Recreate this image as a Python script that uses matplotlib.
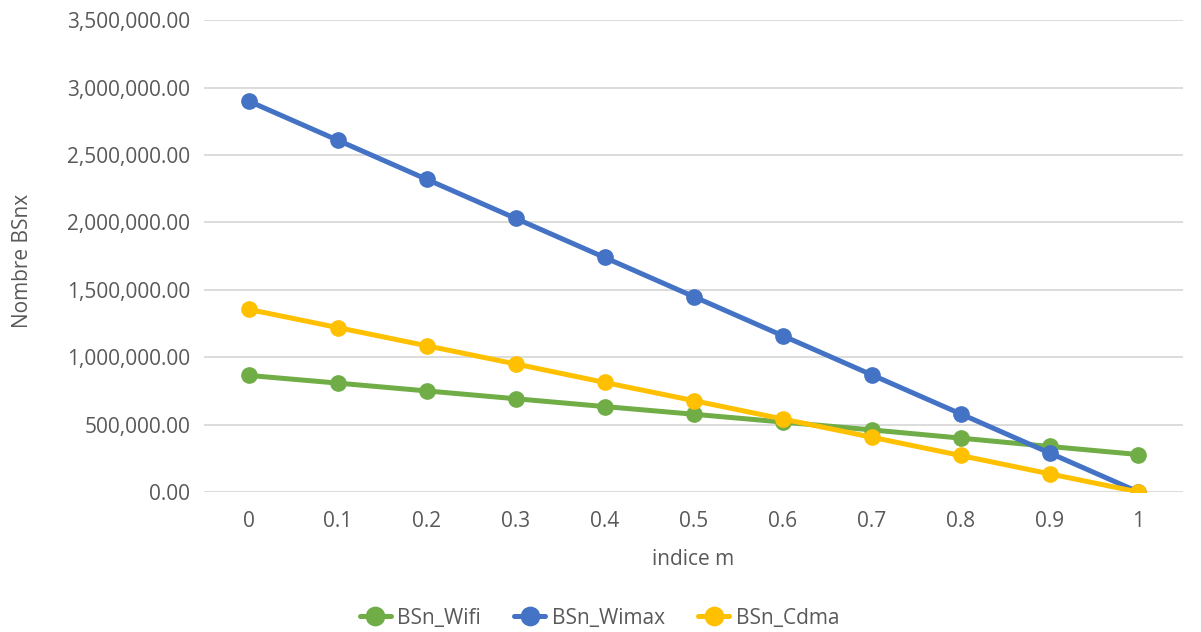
import matplotlib
matplotlib.use("Agg")
import matplotlib.pyplot as plt
from matplotlib.ticker import FuncFormatter

categories = ["0", "0.1", "0.2", "0.3", "0.4", "0.5", "0.6", "0.7", "0.8", "0.9", "1"]
bsn_wifi = [865000, 808000, 750000, 692000, 634000, 577000, 519000, 461000, 400000, 338000, 278000]
bsn_wimax = [2900000, 2610000, 2320000, 2030000, 1740000, 1450000, 1160000, 870000, 580000, 290000, 0]
bsn_cdma = [1355000, 1220000, 1085000, 950000, 813000, 678000, 542000, 407000, 271000, 135000, 0]
series_names = ["BSn_Wifi", "BSn_Wimax", "BSn_Cdma"]
colors = ["#70AD47", "#4472C4", "#FFC000"]

plt.rcParams['font.family'] = ['Open Sans', 'DejaVu Sans']
txt = "#595959"
fs = 15

fig = plt.figure(figsize=(12.01, 6.32), dpi=100)
ax = fig.add_axes([0.170, 0.2215, 0.815, 0.7465])

x = list(range(len(categories)))
for vals, name, c in zip([bsn_wifi, bsn_wimax, bsn_cdma], series_names, colors):
    ax.plot(x, vals, color=c, lw=3.6, marker='o', markersize=11, label=name,
            solid_capstyle='round', zorder=3)

ax.set_xlim(-0.5, len(categories) - 0.5)
ax.set_ylim(0, 3500000)
ax.set_yticks(range(0, 3500001, 500000))
ax.yaxis.set_major_formatter(FuncFormatter(lambda v, p: f"{v:,.2f}"))
ax.set_xticks(x)
ax.set_xticklabels(categories)
ax.tick_params(axis='both', length=0, labelsize=fs, colors=txt)
ax.tick_params(axis='y', pad=10)
ax.tick_params(axis='x', pad=14)
for s in ax.spines.values():
    s.set_visible(False)
ax.grid(axis='y', color='#D9D9D9', lw=1.3, zorder=0)
ax.set_axisbelow(True)

fig.text(0.019, 0.587, "Nombre BSnx", rotation=90, va='center', ha='center', fontsize=fs, color=txt)
fig.text(0.577, 0.114, "indice m", va='center', ha='center', fontsize=fs, color=txt)

leg = fig.legend(loc='center', bbox_to_anchor=(0.499, 0.022), ncol=3, frameon=False,
                 fontsize=fs, handlelength=1.5, columnspacing=1.6, handletextpad=0.3,
                 markerscale=1.2)
for t in leg.get_texts():
    t.set_color(txt)

fig.savefig("out.png", dpi=100, facecolor='white')
